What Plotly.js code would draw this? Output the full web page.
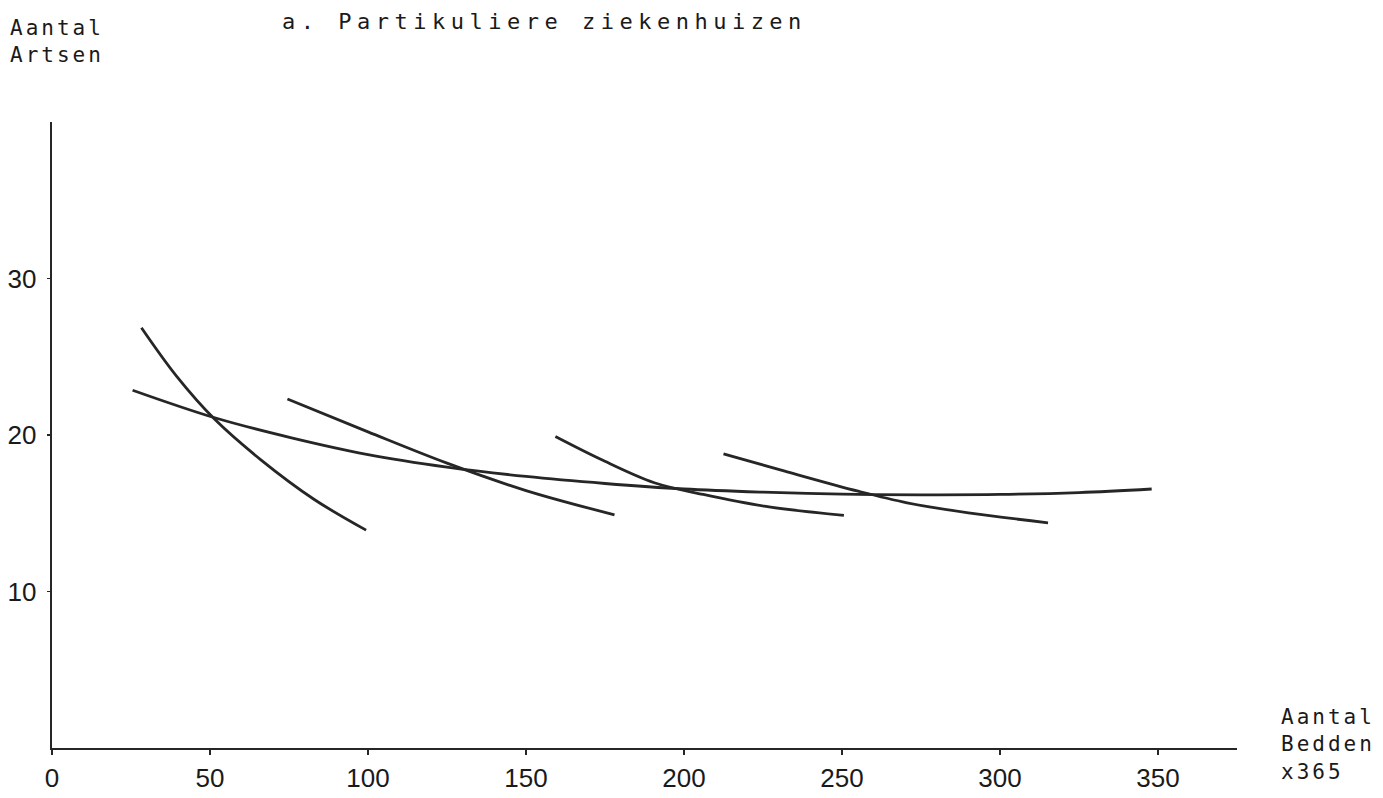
<!DOCTYPE html>
<html>
<head>
<meta charset="utf-8">
<script src="https://cdn.plot.ly/plotly-3.0.1.min.js"></script>
<style>
  html, body { margin: 0; padding: 0; background: #ffffff; }
  #chart { width: 1383px; height: 798px; }
  .gtitle { letter-spacing: 5.5px; }
  .annotation-text { letter-spacing: 3px; }
</style>
</head>
<body>
<div id="chart"></div>
<script>
// ---- data ----
const curveA_x = [28.3, 39.4, 51.5, 66.0, 83.0, 99.4];
const curveA_y = [26.85, 23.76, 21.0, 18.43, 15.88, 13.92];

const curveB_x = [25.5, 51.5, 75.8, 100, 125, 150, 175, 200, 225, 250, 275, 300, 325, 348];
const curveB_y = [22.86, 21.1, 19.82, 18.75, 17.95, 17.35, 16.9, 16.55, 16.35, 16.22, 16.18, 16.2, 16.32, 16.55];

const curveC_x = [74.5, 100, 125, 150, 178];
const curveC_y = [22.3, 20.2, 18.2, 16.45, 14.9];

const curveD_x = [159.3, 173.8, 190.6, 206.1, 225.4, 250.6];
const curveD_y = [19.9, 18.43, 16.95, 16.2, 15.45, 14.86];

const curveE_x = [212.5, 231.9, 255.1, 270.6, 290, 315.2];
const curveE_y = [18.8, 17.69, 16.41, 15.67, 15.03, 14.39];

const xTickVals = [0, 50, 100, 150, 200, 250, 300, 350];
const xTickText = ['0', '50', '100', '150', '200', '250', '300', '350'];
const yTickVals = [10, 20, 30];
const yTickText = ['10', '20', '30'];

const titleText = 'a. Partikuliere ziekenhuizen';
const yTitleLines = ['Aantal', 'Artsen'];
const xTitleLines = ['Aantal', 'Bedden', 'x365'];

// ---- drawing ----
const lineStyle = { color: '#262626', width: 2.8, shape: 'spline', smoothing: 1 };
const series = [
  [curveA_x, curveA_y], [curveB_x, curveB_y], [curveC_x, curveC_y],
  [curveD_x, curveD_y], [curveE_x, curveE_y]
];
const traces = series.map(s => ({
  x: s[0], y: s[1], type: 'scatter', mode: 'lines',
  line: lineStyle, hoverinfo: 'skip', showlegend: false
}));

const W = 1383, H = 798;
const L = 52, R = 146, T = 122, B = 50;
const pw = W - L - R, ph = H - T - B;
const px2paperX = px => (px - L) / pw;
const px2paperY = py => (H - B - py) / ph;

const monoFont = { family: 'DejaVu Sans Mono, Liberation Mono, monospace', size: 21, color: '#1a1a1a' };
const tickFont = { family: 'Liberation Sans Narrow, Liberation Sans, Arial, sans-serif', size: 26, color: '#1a1a1a' };

const annotations = [
  {
    text: yTitleLines.join('<br>'), xref: 'paper', yref: 'paper',
    x: px2paperX(8), y: px2paperY(42), xanchor: 'left', yanchor: 'middle', align: 'left',
    showarrow: false, font: monoFont
  },
  {
    text: xTitleLines.join('<br>'), xref: 'paper', yref: 'paper',
    x: px2paperX(1279), y: px2paperY(744), xanchor: 'left', yanchor: 'middle', align: 'left',
    showarrow: false, font: monoFont
  }
];

const layout = {
  width: W, height: H,
  margin: { l: L, r: R, t: T, b: B, pad: 0 },
  paper_bgcolor: '#ffffff', plot_bgcolor: '#ffffff',
  showlegend: false,
  title: {
    text: titleText, xref: 'container', yref: 'container',
    x: 282 / W, xanchor: 'left', y: 1 - 21 / H, yanchor: 'middle',
    font: { family: 'DejaVu Sans Mono, Liberation Mono, monospace', size: 22, color: '#1a1a1a' }
  },
  xaxis: {
    range: [0, 375], showgrid: false, zeroline: false,
    showline: true, linecolor: '#262626', linewidth: 2.4,
    ticks: 'outside', ticklen: 5, tickwidth: 1.5, tickcolor: '#262626',
    tickvals: xTickVals, ticktext: xTickText, tickfont: tickFont
  },
  yaxis: {
    range: [0, 40], showgrid: false, zeroline: false,
    showline: true, linecolor: '#262626', linewidth: 2.4,
    ticks: 'outside', ticklen: 3, tickwidth: 1.5, tickcolor: '#262626',
    tickvals: yTickVals, ticktext: yTickText, tickfont: tickFont,
    ticklabelstandoff: 5
  },
  annotations: annotations
};

Plotly.newPlot('chart', traces, layout, { displayModeBar: false, staticPlot: true });
</script>
</body>
</html>
